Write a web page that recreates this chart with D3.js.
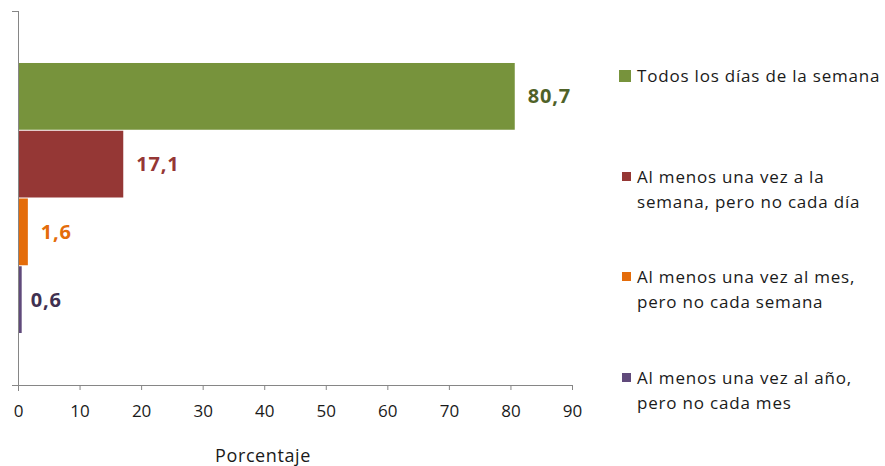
<!DOCTYPE html>
<meta charset="utf-8">
<style>
body { margin: 0; background: #fff; }
svg { font-family: "Open Sans", Lato, sans-serif; }
.axis path, .axis line { stroke: #868686; }
.axis text { font-size: 17px; fill: #1a1a1a; font-family: "Open Sans", sans-serif; }
.legend text { font-size: 17px; fill: #1a1a1a; letter-spacing: 0.8px; }
</style>
<svg width="885" height="466"></svg>
<script src="https://d3js.org/d3.v7.min.js"></script>
<script>

var series = ["Todos los días de la semana",
              "Al menos una vez a la semana, pero no cada día",
              "Al menos una vez al mes, pero no cada semana",
              "Al menos una vez al año, pero no cada mes"];
var values = [80.7, 17.1, 1.6, 0.6];
var legendLines = [["Todos los días de la semana"],
                   ["Al menos una vez a la", "semana, pero no cada día"],
                   ["Al menos una vez al mes,", "pero no cada semana"],
                   ["Al menos una vez al año,", "pero no cada mes"]];
var barColors = ["#77933c", "#953735", "#e46c0a", "#604a7b"];
var labelColors = ["#4f6228", "#953735", "#e46c0a", "#3f3151"];
var xTicks = [0, 10, 20, 30, 40, 50, 60, 70, 80, 90];

var es = d3.formatLocale({decimal: ",", thousands: ".", grouping: [3], currency: ["", "€"]});
var fmt = es.format(".1f");

var svg = d3.select("svg"),
    margin = {top: 11, left: 18, right: 313, bottom: 81},
    width = +svg.attr("width"),
    height = +svg.attr("height");

var x = d3.scaleLinear()
    .domain([0, 90])
    .range([margin.left, width - margin.right]);

var y = d3.scaleBand()
    .domain(series)
    .range([margin.top, height - margin.bottom])
    .paddingInner(0)
    .paddingOuter(0.76);

var data = series.map(function(s, i) { return {name: s, value: values[i], i: i}; });

// bars
svg.append("g")
  .selectAll("rect")
  .data(data)
  .enter().append("rect")
    .attr("x", x(0))
    .attr("y", function(d) { return y(d.name) + 0.5; })
    .attr("width", function(d) { return x(d.value) - x(0); })
    .attr("height", y.bandwidth() - 1)
    .attr("fill", function(d) { return barColors[d.i]; });

// value labels
svg.append("g")
  .selectAll("text")
  .data(data)
  .enter().append("text")
    .attr("x", function(d) { return x(d.value) + (d.value < 1 ? 9 : 13); })
    .attr("y", function(d) { return y(d.name) + y.bandwidth() / 2; })
    .attr("dy", "0.35em")
    .attr("fill", function(d) { return labelColors[d.i]; })
    .style("font-size", "20px")
    .style("font-weight", "bold")
    .style("letter-spacing", "0.8px")
    .text(function(d) { return fmt(d.value); });

// x axis
svg.append("g")
    .attr("class", "axis")
    .attr("transform", "translate(0," + (height - margin.bottom) + ")")
    .call(d3.axisBottom(x).tickValues(xTicks).tickSizeInner(5).tickSizeOuter(0).tickPadding(15))
    .call(function(g) {
      g.select(".domain").attr("d", "M" + (x(0) - 6) + ",0.5H" + x(90));
    });

// y axis
svg.append("g")
    .attr("class", "axis")
    .attr("transform", "translate(" + margin.left + ",0)")
    .call(function(g) {
      g.append("path").attr("d", "M0.5," + margin.top + "V" + (height - margin.bottom + 6))
        .attr("fill", "none").attr("stroke", "#868686");
      g.append("path").attr("d", "M-6," + (margin.top + 0.5) + "H0.5")
        .attr("fill", "none").attr("stroke", "#868686");
    });

svg.append("text")
    .attr("x", 263)
    .attr("y", 456)
    .attr("dy", "0.35em")
    .attr("text-anchor", "middle")
    .style("font-size", "18px")
    .style("letter-spacing", "0.6px")
    .attr("fill", "#1a1a1a")
    .text("Porcentaje");

// legend
var legend = svg.append("g")
    .attr("class", "legend")
    .attr("transform", "translate(637,0)");

var legendY = [76, 177, 277, 378];
var item = legend.selectAll("g")
  .data(legendLines)
  .enter().append("g")
    .attr("transform", function(d, i) { return "translate(0," + legendY[i] + ")"; });

item.append("rect")
    .attr("x", function(d, i) { return i === 0 ? -18 : -15; })
    .attr("y", function(d, i) { return i === 0 ? -6 : -5; })
    .attr("width", function(d, i) { return i === 0 ? 12 : 9; })
    .attr("height", function(d, i) { return i === 0 ? 12 : 9; })
    .attr("fill", function(d, i) { return barColors[i]; });

item.each(function(lines) {
  var g = d3.select(this);
  lines.forEach(function(line, j) {
    g.append("text")
      .attr("x", 0)
      .attr("y", j * 25)
      .attr("dy", "0.35em")
      .text(line);
  });
});

</script>
